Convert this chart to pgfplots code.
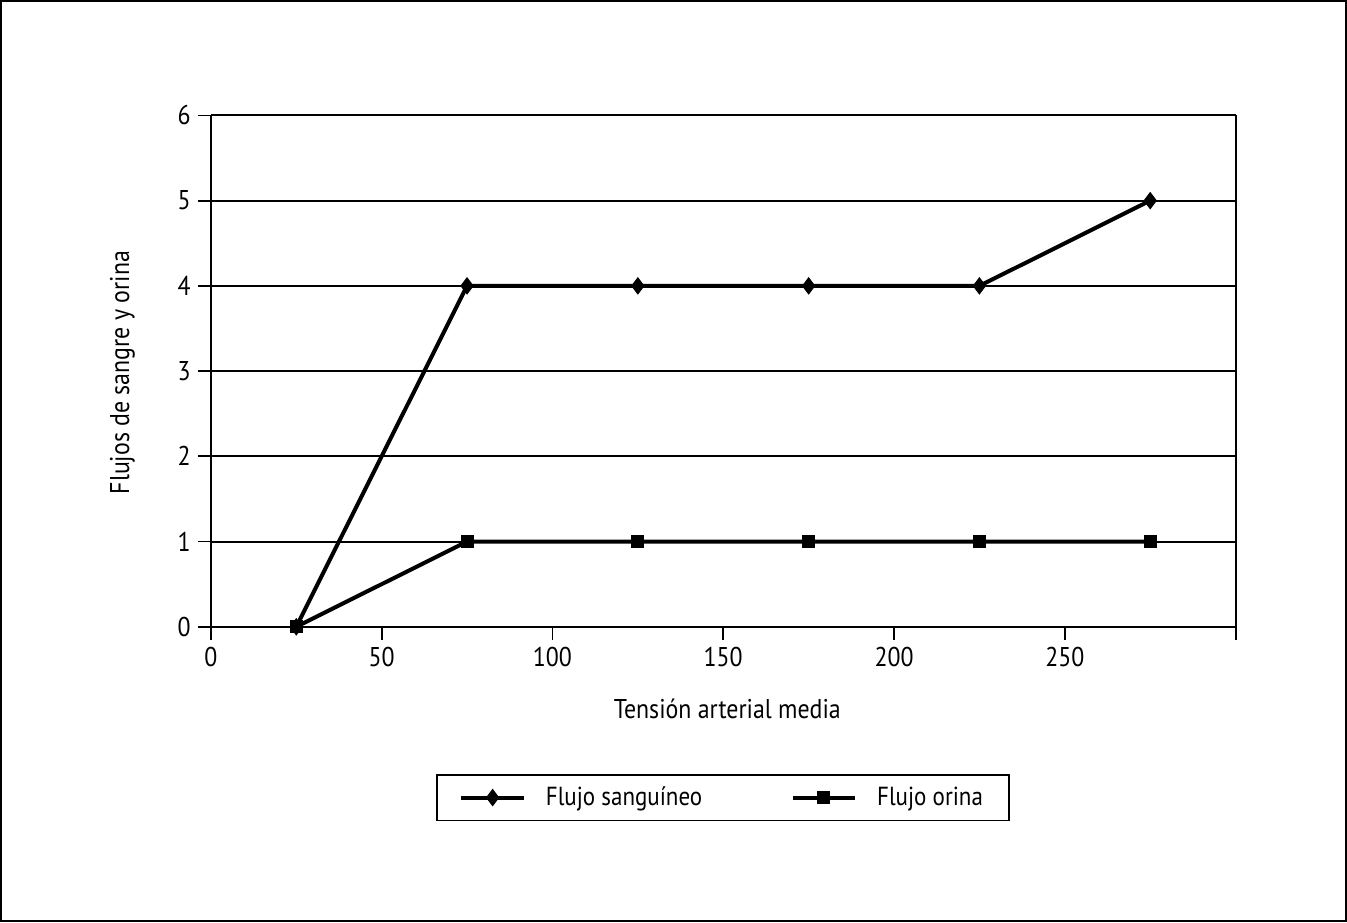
\documentclass[border=0pt]{standalone}
\usepackage{fontspec}
\setmainfont{PT Sans}[FakeStretch=0.88]
\usepackage{pgfplots}
\pgfplotsset{compat=1.18}
\begin{document}
\begin{tikzpicture}
\begin{axis}[
  at={(0,0)}, anchor=south west,
  width=510pt, height=254.5pt, scale only axis,
  xmin=0, xmax=300, ymin=0, ymax=6,
  xtick={0,50,100,150,200,250,300},
  xticklabels={0,50,100,150,200,250,{}},
  ytick={0,1,2,3,4,5,6},
  xtick pos=bottom, ytick pos=left,
  tick align=outside,
  major tick length=6.5pt,
  every tick/.style={black, line width=0.9pt},
  axis line style={black, line width=0.9pt},
  ymajorgrids,
  grid style={black, line width=1pt},
  /pgf/number format/assume math mode=true,
  tick label style={font=\fontsize{13.5}{15}\selectfont},
  xlabel={Tensión arterial media},
  ylabel={Flujos de sangre y orina},
  xlabel style={at={(axis description cs:0.504,-0.161)}, anchor=center, font=\fontsize{13.5}{15}\selectfont},
  ylabel style={at={(axis description cs:-0.0863,0.497)}, anchor=center, rotate=0, font=\fontsize{13.5}{15}\selectfont},
  legend columns=2,
  legend style={at={(axis description cs:0.5,-0.334)}, anchor=center,
    draw=black, line width=0.9pt,
    font=\fontsize{13}{15}\selectfont,
    inner xsep=11pt, inner ysep=4pt,
    /tikz/every even column/.append style={column sep=42pt}},
  legend image code/.code={\draw[mark repeat=2,mark phase=2,#1] plot coordinates {(0pt,0pt) (15.5pt,0pt) (31pt,0pt)};},
]
\addplot[black, line width=2pt, mark=diamond*, mark size=4pt, mark options={solid, fill=black, line width=0.5pt}]
  coordinates {(25,0) (75,4) (125,4) (175,4) (225,4) (275,5)};
\addlegendentry{\hspace{8pt}Flujo sanguíneo}
\addplot[black, line width=2pt, mark=square*, mark size=3pt, mark options={solid, fill=black, line width=0.5pt}]
  coordinates {(25,0) (75,1) (125,1) (175,1) (225,1) (275,1)};
\addlegendentry{\hspace{8pt}Flujo orina}
\end{axis}
\draw[black, line width=0.9pt] ([shift={(-104.5pt,-146.5pt)}]current axis.south west) rectangle ([shift={(55pt,57pt)}]current axis.north east);
\end{tikzpicture}
\end{document}
